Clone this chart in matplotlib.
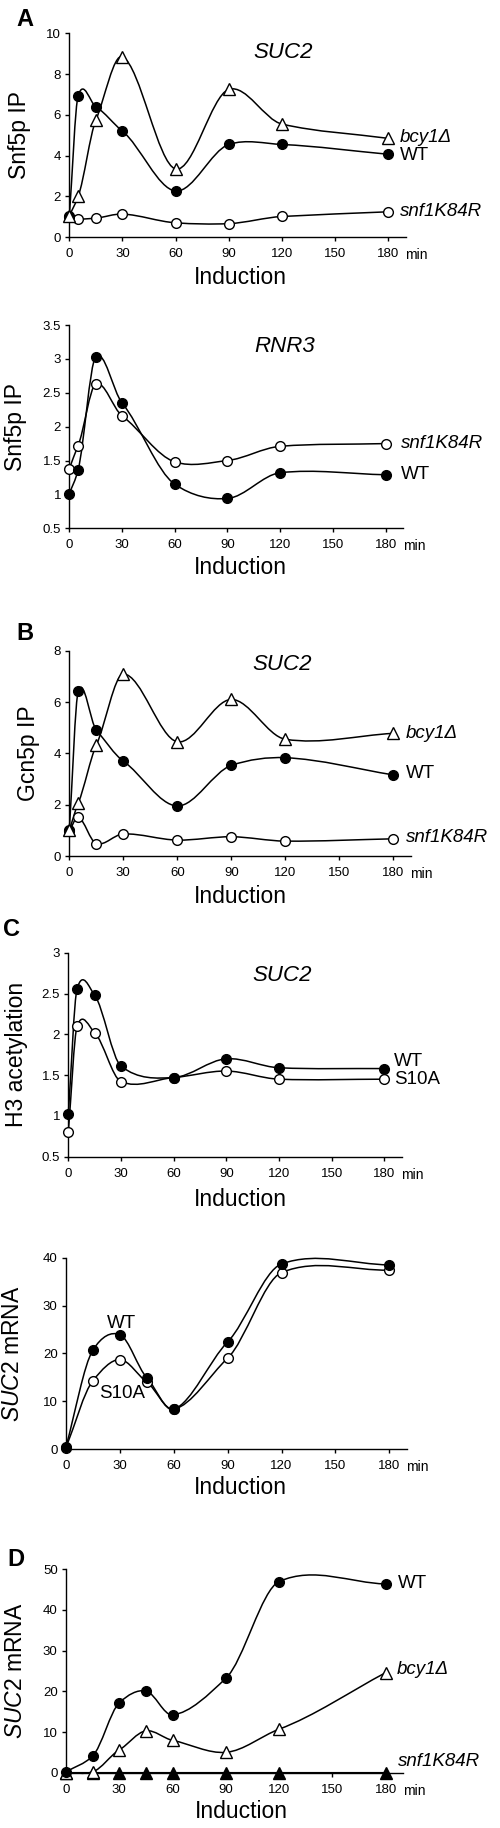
import numpy as np
import matplotlib
matplotlib.use("Agg")
import matplotlib.pyplot as plt
from matplotlib.path import Path
from matplotlib.patches import PathPatch
from matplotlib.ticker import FuncFormatter

plt.rcParams['font.family'] = ['Liberation Sans', 'DejaVu Sans']
plt.rcParams['mathtext.fontset'] = 'custom'
plt.rcParams['mathtext.rm'] = 'Liberation Sans'
plt.rcParams['mathtext.it'] = 'Liberation Sans:italic'

# time points (min)
t_a = [0, 5, 15, 30, 60, 90, 120, 180]
t_c2 = [0, 15, 30, 45, 60, 90, 120, 180]

# A top: Snf5p IP at SUC2
a1_wt = [1.0, 6.95, 6.4, 5.2, 2.27, 4.55, 4.55, 4.07]
a1_bcy = [1.05, 2.0, 5.75, 8.85, 3.35, 7.25, 5.55, 4.85]
a1_snf = [1.05, 0.9, 0.94, 1.14, 0.71, 0.67, 1.02, 1.25]

# A bottom: Snf5p IP at RNR3
a2_wt = [1.01, 1.36, 3.03, 2.35, 1.15, 0.94, 1.32, 1.29]
a2_snf = [1.38, 1.72, 2.63, 2.16, 1.48, 1.5, 1.71, 1.75]

# B: Gcn5p IP at SUC2
b_wt = [1.0, 6.44, 4.91, 3.7, 1.95, 3.53, 3.83, 3.16]
b_bcy = [1.0, 2.07, 4.32, 7.09, 4.45, 6.1, 4.55, 4.78]
b_snf = [0.97, 1.52, 0.48, 0.86, 0.62, 0.75, 0.58, 0.67]

# C top: H3 acetylation at SUC2
c1_wt = [1.02, 2.56, 2.48, 1.61, 1.47, 1.7, 1.59, 1.58]
c1_s10a = [0.8, 2.1, 2.02, 1.42, 1.47, 1.55, 1.45, 1.45]

# C bottom: SUC2 mRNA
c2_wt = [0.5, 20.7, 23.9, 14.9, 8.3, 22.4, 38.7, 38.5]
c2_s10a = [0.3, 14.3, 18.7, 14.0, 8.3, 19.0, 36.9, 37.4]

# D: SUC2 mRNA
d_wt = [0.2, 4.1, 17.2, 20.1, 14.2, 23.2, 47.0, 46.4]
d_bcy = [0.0, 0.2, 5.6, 10.3, 7.95, 5.0, 10.7, 24.6]
d_snf = [0, 0, 0, 0, 0, 0, 0, 0]

x_ticks = [0, 30, 60, 90, 120, 150, 180]

W, H = 500, 1828
fig = plt.figure(figsize=(W / 100, H / 100), dpi=100)


def ftext(px, py, s, **kw):
    fig.text(px / W, 1 - py / H, s, **kw)


def smooth(ax, x, y, tension=0.75):
    # hermite spline through the points, drawn as bezier segments
    x = np.asarray(x, float)
    y = np.asarray(y, float)
    n = len(x)
    m = np.zeros(n)
    m[0] = (y[1] - y[0]) / (x[1] - x[0])
    m[-1] = (y[-1] - y[-2]) / (x[-1] - x[-2])
    for i in range(1, n - 1):
        m[i] = tension * (y[i + 1] - y[i - 1]) / (x[i + 1] - x[i - 1])
    verts = [(x[0], y[0])]
    codes = [Path.MOVETO]
    for i in range(n - 1):
        h = x[i + 1] - x[i]
        verts += [(x[i] + h / 3, y[i] + m[i] * h / 3),
                  (x[i + 1] - h / 3, y[i + 1] - m[i + 1] * h / 3),
                  (x[i + 1], y[i + 1])]
        codes += [Path.CURVE4] * 3
    ax.add_patch(PathPatch(Path(verts, codes), fill=False, lw=1.1,
                           edgecolor='black', zorder=2, clip_on=False))


def series(ax, x, y, kind):
    smooth(ax, x, y)
    if kind == 'wt':
        ax.plot(x, y, 'o', ms=7, mfc='black', mec='black', ls='none', zorder=4, clip_on=False)
    elif kind == 'open':
        ax.plot(x, y, 'o', ms=7, mfc='white', mec='black', mew=1, ls='none', zorder=4, clip_on=False)
    elif kind == 'tri':
        ax.plot(x, y, '^', ms=8, mfc='white', mec='black', mew=1, ls='none', zorder=4, clip_on=False)
    elif kind == 'ftri':
        ax.plot(x, y, '^', ms=8, mfc='black', mec='black', ls='none', zorder=4, clip_on=False)


def panel(px0, px180, ytop, ybot, ylim, yticks, ylabel, ylab_x):
    left = px0 / W
    width = (px180 - px0) * 190 / 180 / W
    ax = fig.add_axes([left, 1 - ybot / H, width, (ybot - ytop) / H])
    ax.set_xlim(0, 190)
    ax.set_ylim(*ylim)
    for s in ['top', 'right']:
        ax.spines[s].set_visible(False)
    for s in ['left', 'bottom']:
        ax.spines[s].set_linewidth(1.0)
    ax.set_xticks(x_ticks)
    ax.set_yticks(yticks)
    ax.yaxis.set_major_formatter(FuncFormatter(lambda v, p: '%g' % v))
    ax.tick_params(direction='out', length=3, width=1, labelsize=9.5)
    ax.tick_params(axis='x', pad=5)
    ax.tick_params(axis='y', pad=3)
    ftext(ylab_x, (ytop + ybot) / 2, ylabel, rotation=90, ha='center', va='center', fontsize=16.5)
    ftext(px180 + 17, ybot + 18, 'min', ha='left', va='center', fontsize=10)
    return ax


# ---- A top
ax = panel(69.3, 388.3, 33.3, 237.3, (0, 10), [0, 2, 4, 6, 8, 10], 'Snf5p IP', 20)
series(ax, t_a, a1_snf, 'open')
series(ax, t_a, a1_wt, 'wt')
series(ax, t_a, a1_bcy, 'tri')
ftext(25, 20, 'A', fontsize=17, fontweight='bold', ha='center', va='center')
ftext(283, 52, 'SUC2', fontsize=16, style='italic', ha='center', va='center')
ftext(400, 137, 'bcy1Δ', fontsize=13.5, style='italic', ha='left', va='center')
ftext(400, 156, 'WT', fontsize=13.5, ha='left', va='center')
ftext(400, 212, 'snf1K84R', fontsize=13.5, style='italic', ha='left', va='center')
ftext(240, 278, 'Induction', fontsize=16.5, ha='center', va='center')

# ---- A bottom
ax = panel(69.3, 385.7, 325, 528.3, (0.5, 3.5), [0.5, 1, 1.5, 2, 2.5, 3, 3.5], 'Snf5p IP', 16)
series(ax, t_a, a2_snf, 'open')
series(ax, t_a, a2_wt, 'wt')
ftext(285, 347, 'RNR3', fontsize=16, style='italic', ha='center', va='center')
ftext(401, 443, 'snf1K84R', fontsize=13.5, style='italic', ha='left', va='center')
ftext(401, 474, 'WT', fontsize=13.5, ha='left', va='center')
ftext(240, 567, 'Induction', fontsize=16.5, ha='center', va='center')

# ---- B
ax = panel(69.3, 393.3, 650.7, 856, (0, 8), [0, 2, 4, 6, 8], 'Gcn5p IP', 28)
series(ax, t_a, b_snf, 'open')
series(ax, t_a, b_wt, 'wt')
series(ax, t_a, b_bcy, 'tri')
ftext(25, 633, 'B', fontsize=17, fontweight='bold', ha='center', va='center')
ftext(282, 665, 'SUC2', fontsize=16, style='italic', ha='center', va='center')
ftext(406, 733, 'bcy1Δ', fontsize=13.5, style='italic', ha='left', va='center')
ftext(406, 774, 'WT', fontsize=13.5, ha='left', va='center')
ftext(406, 838, 'snf1K84R', fontsize=13.5, style='italic', ha='left', va='center')
ftext(240, 897, 'Induction', fontsize=16.5, ha='center', va='center')

# ---- C top
ax = panel(68.3, 384.3, 952.7, 1156.7, (0.5, 3), [0.5, 1, 1.5, 2, 2.5, 3], 'H3 acetylation', 17)
series(ax, t_a, c1_s10a, 'open')
series(ax, t_a, c1_wt, 'wt')
ftext(12, 930, 'C', fontsize=17, fontweight='bold', ha='center', va='center')
ftext(282, 975, 'SUC2', fontsize=16, style='italic', ha='center', va='center')
ftext(394, 1062, 'WT', fontsize=13.5, ha='left', va='center')
ftext(394, 1080, 'S10A', fontsize=13.5, ha='left', va='center')
ftext(240, 1200, 'Induction', fontsize=16.5, ha='center', va='center')

# ---- C bottom
ax = panel(66, 389.3, 1257.7, 1449, (0, 40), [0, 10, 20, 30, 40], r'$\mathit{SUC2}$ mRNA', 13)
series(ax, t_c2, c2_s10a, 'open')
series(ax, t_c2, c2_wt, 'wt')
ftext(107, 1323, 'WT', fontsize=13.5, ha='left', va='center')
ftext(99, 1394, 'S10A', fontsize=13.5, ha='left', va='center')
ftext(240, 1488, 'Induction', fontsize=16.5, ha='center', va='center')

# ---- D
ax = panel(66, 385.7, 1569.3, 1772.7, (0, 50), [0, 10, 20, 30, 40, 50], r'$\mathit{SUC2}$ mRNA', 16)
series(ax, t_c2, d_snf, 'ftri')
series(ax, t_c2, d_bcy, 'tri')
series(ax, t_c2, d_wt, 'wt')
ftext(16, 1560, 'D', fontsize=17, fontweight='bold', ha='center', va='center')
ftext(398, 1583, 'WT', fontsize=13.5, ha='left', va='center')
ftext(397, 1670, 'bcy1Δ', fontsize=13.5, style='italic', ha='left', va='center')
ftext(398, 1762, 'snf1K84R', fontsize=13.5, style='italic', ha='left', va='center')
ftext(241, 1812, 'Induction', fontsize=16.5, ha='center', va='center')

fig.savefig('out.png', dpi=100)
